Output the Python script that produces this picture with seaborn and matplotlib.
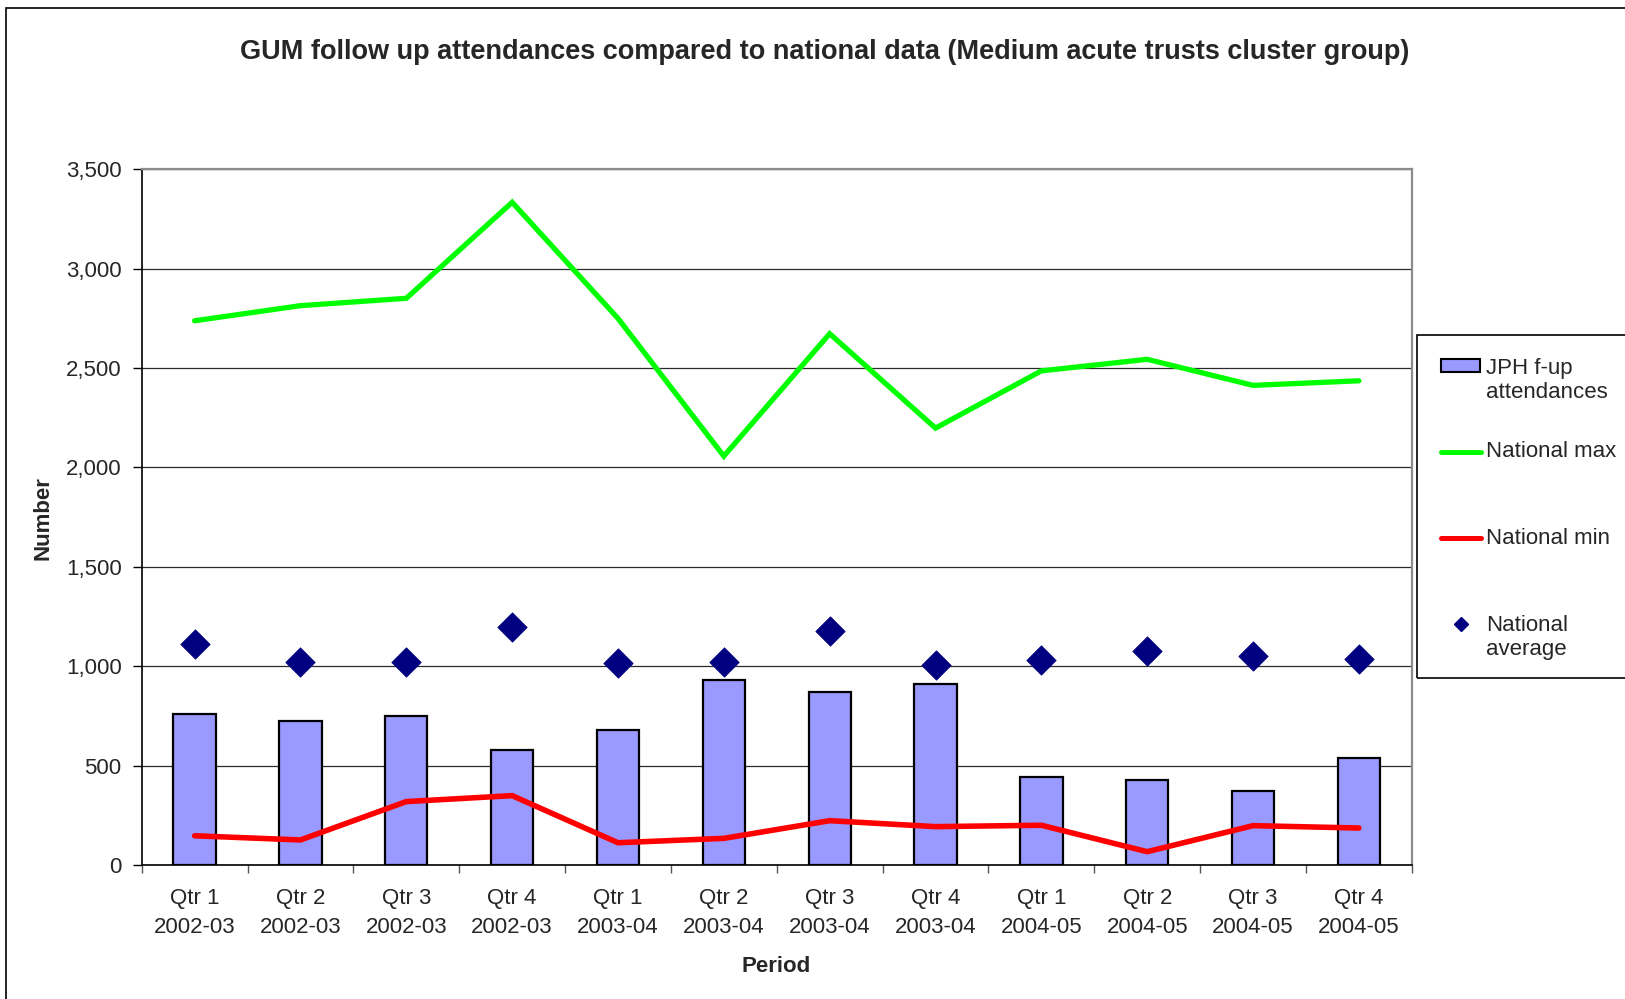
import numpy as np
import pandas as pd
import matplotlib
matplotlib.use("Agg")
import matplotlib.pyplot as plt
import seaborn as sns
from matplotlib.patches import Rectangle
from matplotlib.lines import Line2D

# ---------------- data ----------------
quarters = ["Qtr 1", "Qtr 2", "Qtr 3", "Qtr 4"] * 3
years = ["2002-03"] * 4 + ["2003-04"] * 4 + ["2004-05"] * 4
jph_fup = [761, 725, 748, 579, 681, 931, 869, 911, 443, 428, 374, 538]
national_max = [2738, 2814, 2851, 3334, 2750, 2057, 2673, 2198, 2486, 2544, 2413, 2436]
national_min = [147, 126, 319, 349, 112, 134, 223, 193, 200, 67, 198, 186]
national_avg = [1112, 1022, 1023, 1196, 1017, 1023, 1179, 1005, 1030, 1077, 1052, 1038]
y_ticks = [0, 500, 1000, 1500, 2000, 2500, 3000, 3500]

title = "GUM follow up attendances compared to national data (Medium acute trusts cluster group)"
legend_labels = ["JPH f-up\nattendances", "National max", "National min", "National\naverage"]

tick_labels = [f"{q}\n{y}" for q, y in zip(quarters, years)]
idx = np.arange(len(jph_fup))
df = pd.DataFrame({"idx": idx, "jph": jph_fup, "max": national_max,
                   "min": national_min, "avg": national_avg})

# ---------------- style ----------------
sns.set_style("white")
plt.rcParams['font.family'] = ['Liberation Sans', 'DejaVu Sans']

W, H = 1625, 999
fig = plt.figure(figsize=(W / 100, H / 100), dpi=100)

L, R, T, B = 141.7, 1411.8, 169.3, 865.0
ax = fig.add_axes([L / W, 1 - B / H, (R - L) / W, (B - T) / H])

BAR = "#9999FF"
GREEN = "#00FF00"
RED = "#FF0000"
NAVY = "#000080"

sns.barplot(data=df, x="idx", y="jph", color=BAR, edgecolor="black",
            linewidth=1.6, width=0.4, saturation=1, ax=ax, zorder=2)
sns.lineplot(data=df, x="idx", y="max", color=GREEN, linewidth=3.8, sort=False,
             ax=ax, zorder=3)
sns.lineplot(data=df, x="idx", y="min", color=RED, linewidth=4.0, sort=False,
             ax=ax, zorder=3)
sns.scatterplot(data=df, x="idx", y="avg", marker="D", s=225, color=NAVY,
                edgecolor=NAVY, linewidth=0.5, ax=ax, zorder=4)
for ln in ax.lines:
    ln.set_solid_capstyle("round")
    ln.set_solid_joinstyle("miter")

# axes
ax.set_xlim(-0.5, len(idx) - 0.5)
ax.set_ylim(0, 3500)
ax.set_yticks(y_ticks)
ax.set_yticklabels([f"{v:,}" for v in y_ticks])
ax.set_xticks(np.arange(-0.5, len(idx), 1.0))
ax.set_xticklabels([])
ax.set_xticks(idx, minor=True)
ax.set_xticklabels(tick_labels, minor=True, linespacing=1.5)
ax.tick_params(axis="x", which="major", direction="out", length=6, width=1,
               color="#555555", bottom=True)
ax.tick_params(axis="x", which="minor", length=0, pad=16.5, labelsize=16)
ax.tick_params(axis="y", direction="out", length=6.5, width=1, color="black",
               left=True, pad=8, labelsize=16)
ax.yaxis.grid(True, color="#2a2a2a", linewidth=0.9)
ax.xaxis.grid(False)
ax.set_axisbelow(True)

for side in ["left", "bottom"]:
    ax.spines[side].set_color("black")
    ax.spines[side].set_linewidth(1.2)
for side in ["top", "right"]:
    ax.spines[side].set_color("#8c8c8c")
    ax.spines[side].set_linewidth(1.6)

ax.set_xlabel("Period", fontsize=16, fontweight="bold", va="center")
ax.xaxis.set_label_coords((776 - L) / (R - L), (B - 966) / (B - T))
ax.set_ylabel("Number", fontsize=16, fontweight="bold", va="center")
ax.yaxis.set_label_coords((43.5 - L) / (R - L), (B - 518) / (B - T))

fig.text(825 / W, 1 - 52 / H, title, ha="center", va="center",
         fontsize=19.5, fontweight="bold")

# outer chart border (clipped at right and bottom)
fig.add_artist(Rectangle((5.7 / W, -0.2), 2.0, 1 - 7.7 / H + 0.2,
                         transform=fig.transFigure, fill=False,
                         edgecolor="black", linewidth=1.2))

# ---------------- legend ----------------
def fx(px):
    return px / W

def fy(py):
    return 1 - py / H

lx0, ly0, ly1 = 1417.3, 335.0, 678.3
fig.add_artist(Rectangle((fx(lx0), fy(ly1)), 1.0, (ly1 - ly0) / H,
                         transform=fig.transFigure, fill=False,
                         edgecolor="black", linewidth=1.2))
fig.add_artist(Rectangle((fx(1440.7), fy(372.2)), (1480 - 1440.7) / W, 13 / H,
                         transform=fig.transFigure, facecolor=BAR,
                         edgecolor="black", linewidth=1.5))
fig.add_artist(Line2D([fx(1441), fx(1481)], [fy(451.7)] * 2,
                      transform=fig.transFigure, color=GREEN, linewidth=3.6,
                      solid_capstyle="round"))
fig.add_artist(Line2D([fx(1441), fx(1481)], [fy(538.3)] * 2,
                      transform=fig.transFigure, color=RED, linewidth=3.6,
                      solid_capstyle="round"))
fig.add_artist(Line2D([fx(1460.7)], [fy(624)], transform=fig.transFigure,
                      marker="D", markersize=7.6, color=NAVY, linestyle="none"))

tx = fx(1486)
fig.text(tx, fy(380.5), legend_labels[0], ha="left", va="center", fontsize=16,
         linespacing=1.2)
fig.text(tx, fy(451.7), legend_labels[1], ha="left", va="center", fontsize=16)
fig.text(tx, fy(538.3), legend_labels[2], ha="left", va="center", fontsize=16)
fig.text(tx, fy(637.5), legend_labels[3], ha="left", va="center", fontsize=16,
         linespacing=1.2)

fig.savefig("out.png", dpi=100)
